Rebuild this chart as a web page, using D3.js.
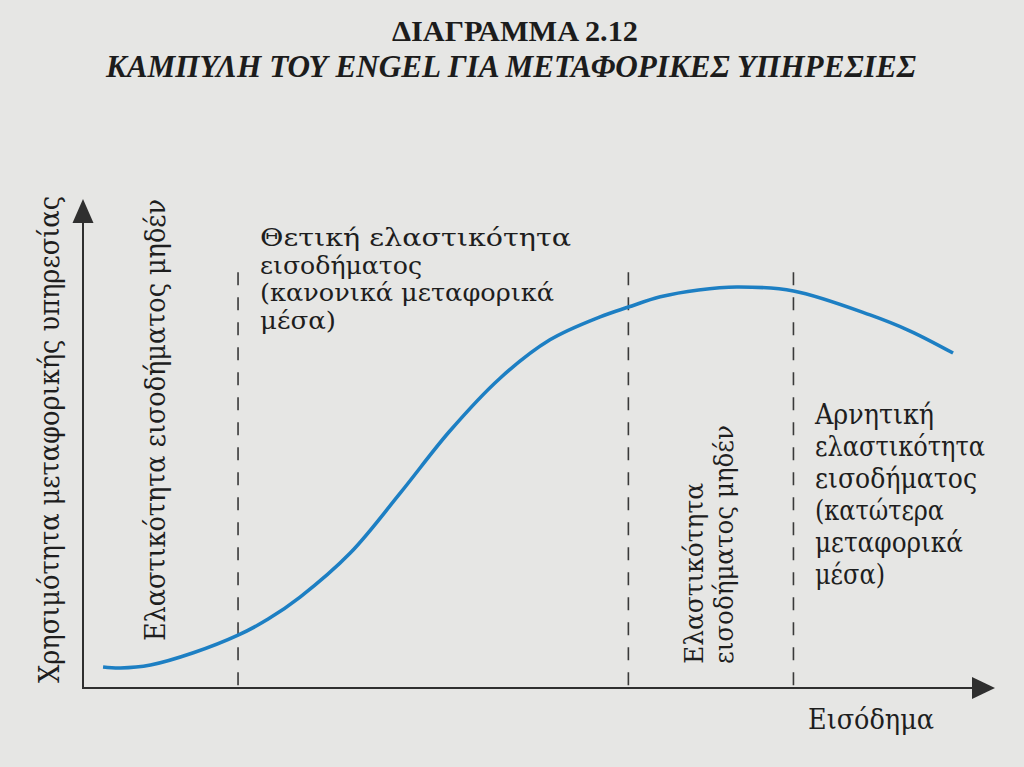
<!DOCTYPE html>
<html>
  <head>
    <meta charset="utf-8" />
    <title>Engel curve</title>
    <script src="https://d3js.org/d3.v7.min.js" charset="utf-8"></script>
    <style>
      body { margin: 0; background: #e6e6e4; }
      svg { display: block; }
    </style>
  </head>
  <body>
    <svg id="canvas" width="1024" height="767"></svg>
    <script>
      // curve values (income 0-100, utility 0-100)
      const incomeLevels = [2.2, 4.1, 7.4, 12.1, 17.0, 20.3, 23.8, 29.3, 34.8, 40.2, 45.7, 51.2, 56.7, 59.8, 63.3, 67.5, 71.7, 77.9, 86.3, 90.7, 95.4];
      const utilityLevels = [4.3, 4.1, 4.7, 7.2, 10.8, 14.1, 18.6, 27.6, 39.9, 52.5, 63.3, 71.2, 75.9, 77.9, 80.0, 81.4, 82.0, 81.2, 76.3, 73.0, 68.5];

      // zone borders (zero income elasticity points)
      const borders = [17.0, 59.8, 77.9];
      const borderTop = 85;

      const title = "ΔΙΑΓΡΑΜΜΑ 2.12";
      const subtitle = "ΚΑΜΠΥΛΗ ΤΟΥ ENGEL ΓΙΑ ΜΕΤΑΦΟΡΙΚΕΣ ΥΠΗΡΕΣΙΕΣ";
      const yLabel = "Χρησιμότητα μεταφορικής υπηρεσίας";
      const xLabel = "Εισόδημα";
      const zeroLabelLeft = ["Ελαστικότητα εισοδήματος μηδέν"];
      const zeroLabelMid = ["Ελαστικότητα", "εισοδήματος μηδέν"];
      const positiveLabel = ["Θετική ελαστικότητα", "εισοδήματος", "(κανονικά μεταφορικά", "μέσα)"];
      const negativeLabel = ["Αρνητική", "ελαστικότητα", "εισοδήματος", "(κατώτερα", "μεταφορικά", "μέσα)"];

      const canvas = d3.select("#canvas");
      const ink = "#2f2f2f";
      const serif = "'DejaVu Serif', serif";

      const x = d3.scaleLinear().domain([0, 100]).range([83, 995]);
      const y = d3.scaleLinear().domain([0, 100]).range([688, 199]);

      // titles
      canvas.append("text")
        .attr("x", 515).attr("y", 41)
        .attr("text-anchor", "middle")
        .attr("textLength", 246).attr("lengthAdjust", "spacingAndGlyphs")
        .style("font-family", "'Liberation Serif', serif")
        .style("font-weight", "bold")
        .style("font-size", "29px")
        .attr("fill", "#1c1c1c")
        .text(title);

      canvas.append("text")
        .attr("x", 511).attr("y", 77)
        .attr("text-anchor", "middle")
        .attr("textLength", 810).attr("lengthAdjust", "spacingAndGlyphs")
        .style("font-family", "'Liberation Serif', serif")
        .style("font-weight", "bold")
        .style("font-style", "italic")
        .style("font-size", "31px")
        .attr("fill", "#1c1c1c")
        .text(subtitle);

      // dashed zone borders
      canvas.selectAll("line.border")
        .data(borders)
        .enter()
        .append("line")
        .attr("class", "border")
        .attr("x1", d => x(d)).attr("x2", d => x(d))
        .attr("y1", y(borderTop)).attr("y2", y(0))
        .attr("stroke", "#3a3a3a")
        .attr("stroke-width", 1.6)
        .attr("stroke-dasharray", "13,12");

      // axes with arrow heads
      canvas.append("line")
        .attr("x1", x(0)).attr("x2", x(100) - 20)
        .attr("y1", y(0)).attr("y2", y(0))
        .attr("stroke", ink).attr("stroke-width", 2);
      canvas.append("line")
        .attr("x1", x(0)).attr("x2", x(0))
        .attr("y1", y(0) + 1).attr("y2", y(100) + 20)
        .attr("stroke", ink).attr("stroke-width", 2);

      canvas.append("path")
        .attr("d", `M${x(100)},${y(0)} L${x(100) - 23},${y(0) - 11} L${x(100) - 23},${y(0) + 11} Z`)
        .attr("fill", ink);
      canvas.append("path")
        .attr("d", `M${x(0)},${y(100)} L${x(0) - 10.5},${y(100) + 24} L${x(0) + 10.5},${y(100) + 24} Z`)
        .attr("fill", ink);

      // engel curve
      const points = incomeLevels.map((d, i) => [d, utilityLevels[i]]);
      const line = d3.line()
        .x(d => x(d[0]))
        .y(d => y(d[1]))
        .curve(d3.curveCatmullRom.alpha(0.5));

      canvas.append("path")
        .datum(points)
        .attr("d", line)
        .attr("fill", "none")
        .attr("stroke", "#1d7fc3")
        .attr("stroke-width", 3.6)
        .attr("stroke-linecap", "butt");

      // rotated labels, one line per entry
      function rotatedText(lines, bx, by, lengths, gap, size) {
        lines.forEach(function (t, i) {
          const px = bx + i * gap;
          canvas.append("text")
            .attr("transform", `translate(${px},${by}) rotate(-90)`)
            .attr("textLength", lengths[i]).attr("lengthAdjust", "spacingAndGlyphs")
            .style("font-family", serif)
            .style("font-size", size + "px")
            .attr("fill", "#1e1e1e")
            .text(t);
        });
      }

      function blockText(lines, bx, by, lengths, gap, size) {
        lines.forEach(function (t, i) {
          canvas.append("text")
            .attr("x", bx).attr("y", by + i * gap)
            .attr("textLength", lengths[i]).attr("lengthAdjust", "spacingAndGlyphs")
            .style("font-family", serif)
            .style("font-size", size + "px")
            .attr("fill", "#1e1e1e")
            .text(t);
        });
      }

      rotatedText([yLabel], 59, 683, [487], 0, 27);
      rotatedText(zeroLabelLeft, 165, 641, [442], 0, 27);
      rotatedText(zeroLabelMid, 703, 664, [181, 239], 30, 26);

      blockText(positiveLabel, 260, 246, [311, 162, 294, 76], 27.5, 25);
      blockText(negativeLabel, 815, 424, [119, 170, 162, 129, 148, 70], 32, 27);

      canvas.append("text")
        .attr("x", 808).attr("y", 729)
        .attr("textLength", 126).attr("lengthAdjust", "spacingAndGlyphs")
        .style("font-family", serif)
        .style("font-size", "27px")
        .attr("fill", "#1e1e1e")
        .text(xLabel);
    </script>
  </body>
</html>
